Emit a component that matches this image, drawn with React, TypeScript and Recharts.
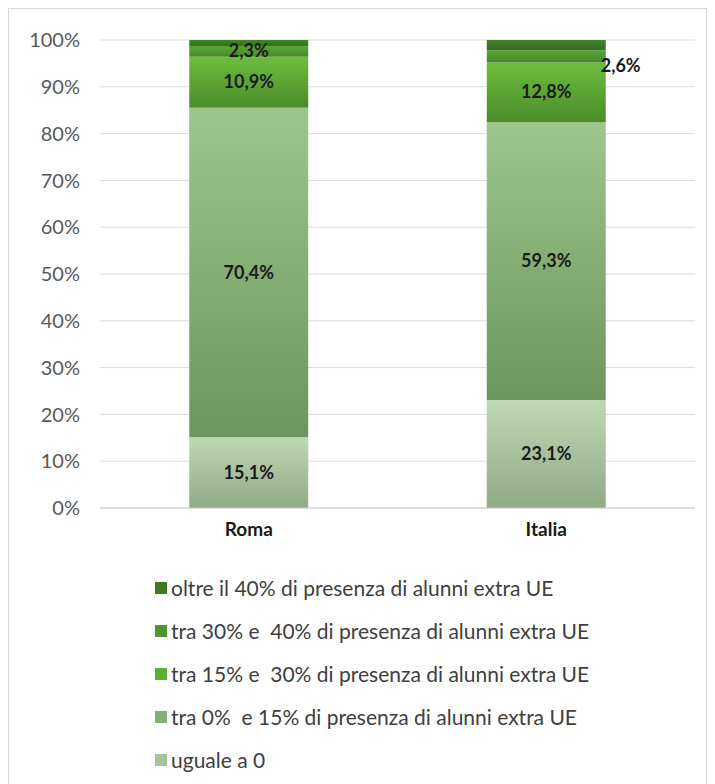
import { BarChart, Bar, XAxis, YAxis, CartesianGrid, Legend, LabelList } from "recharts";

const cities = ["Roma", "Italia"];
const uguale0 = [15.1, 23.1];
const tra0e15 = [70.4, 59.3];
const tra15e30 = [10.9, 12.8];
const tra30e40 = [2.3, 2.6];
const oltre40 = [1.3, 2.2];
const yTicks = [0, 10, 20, 30, 40, 50, 60, 70, 80, 90, 100];

const data = cities.map((city, i) => ({
  city,
  uguale0: uguale0[i],
  tra0e15: tra0e15[i],
  tra15e30: tra15e30[i],
  tra30e40: tra30e40[i],
  oltre40: oltre40[i],
}));

// bottom to top of the stack
const series = [
  { key: "uguale0", name: "uguale a 0", top: "#bfd9b4", bottom: "#90a986", swatch: "#a8c39d", label: true },
  { key: "tra0e15", name: "tra 0%  e 15% di presenza di alunni extra UE", top: "#9cc68b", bottom: "#6d965e", swatch: "#86ad77", label: true },
  { key: "tra15e30", name: "tra 15% e  30% di presenza di alunni extra UE", top: "#6dbd3d", bottom: "#4b8c2a", swatch: "#5cae33", label: true },
  { key: "tra30e40", name: "tra 30% e  40% di presenza di alunni extra UE", top: "#5aa536", bottom: "#468a29", swatch: "#4c982c", label: true },
  { key: "oltre40", name: "oltre il 40% di presenza di alunni extra UE", top: "#438529", bottom: "#366d20", swatch: "#3d7a24", label: false },
];

const fmt = (v: number) => v.toFixed(1).replace(".", ",") + "%";

const labelStyle = { fontSize: 18, fontWeight: 700, fill: "#1a1a1a", fontFamily: "Lato, sans-serif" };

function SegLabel(props: any) {
  const { x, y, width, height, value, index, outside } = props;
  if (outside && index === 1) {
    return (
      <text x={x + width - 5} y={y + height / 2 + 16} textAnchor="start" {...labelStyle}>
        {fmt(value)}
      </text>
    );
  }
  return (
    <text x={x + width / 2} y={y + height / 2 + 6} textAnchor="middle" {...labelStyle}>
      {fmt(value)}
    </text>
  );
}

function LegendBox() {
  const rows = [...series].reverse();
  return (
    <div style={{ fontFamily: "Lato, sans-serif" }}>
      {rows.map((s) => (
        <div key={s.key} style={{ display: "flex", alignItems: "center", height: 43 }}>
          <span style={{ width: 12, height: 12, background: s.swatch, marginRight: 4, display: "inline-block" }} />
          <span style={{ fontSize: 21, color: "#404040", whiteSpace: "pre" }}>{s.name}</span>
        </div>
      ))}
    </div>
  );
}

export default function App() {
  return (
    <div
      style={{
        width: 697,
        height: 778,
        border: "1px solid #d9d9d9",
        background: "#fff",
        fontFamily: "Lato, sans-serif",
      }}
    >
      <BarChart
        width={697}
        height={766}
        data={data}
        margin={{ top: 31, right: 11, left: 0, bottom: 227 }}
        barCategoryGap="30%"
      >
        <defs>
          {series.map((s) => (
            <linearGradient key={s.key} id={`grad-${s.key}`} x1="0" y1="0" x2="0" y2="1">
              <stop offset="0%" stopColor={s.top} />
              <stop offset="100%" stopColor={s.bottom} />
            </linearGradient>
          ))}
        </defs>
        <CartesianGrid vertical={false} stroke="#dcdcdc" />
        <XAxis
          dataKey="city"
          height={40}
          tickLine={false}
          tickSize={0}
          tickMargin={15}
          axisLine={{ stroke: "#d0d0d0" }}
          tick={{ fontSize: 19, fontWeight: 700, fill: "#1a1a1a" }}
        />
        <YAxis
          width={91}
          domain={[0, 100]}
          ticks={yTicks}
          tickFormatter={(v: number) => v + "%"}
          axisLine={false}
          tickLine={false}
          tickSize={0}
          tickMargin={20}
          tick={{ fontSize: 20, fill: "#595959" }}
        />
        <Legend
          layout="vertical"
          align="center"
          verticalAlign="middle"
          content={<LegendBox />}
          wrapperStyle={{ top: 557, left: 146, width: 540 }}
        />
        {series.map((s) => (
          <Bar
            key={s.key}
            dataKey={s.key}
            name={s.name}
            stackId="a"
            fill={`url(#grad-${s.key})`}
            isAnimationActive={false}
          >
            {s.label ? (
              <LabelList
                dataKey={s.key}
                content={<SegLabel outside={s.key === "tra30e40"} />}
              />
            ) : null}
          </Bar>
        ))}
      </BarChart>
    </div>
  );
}
